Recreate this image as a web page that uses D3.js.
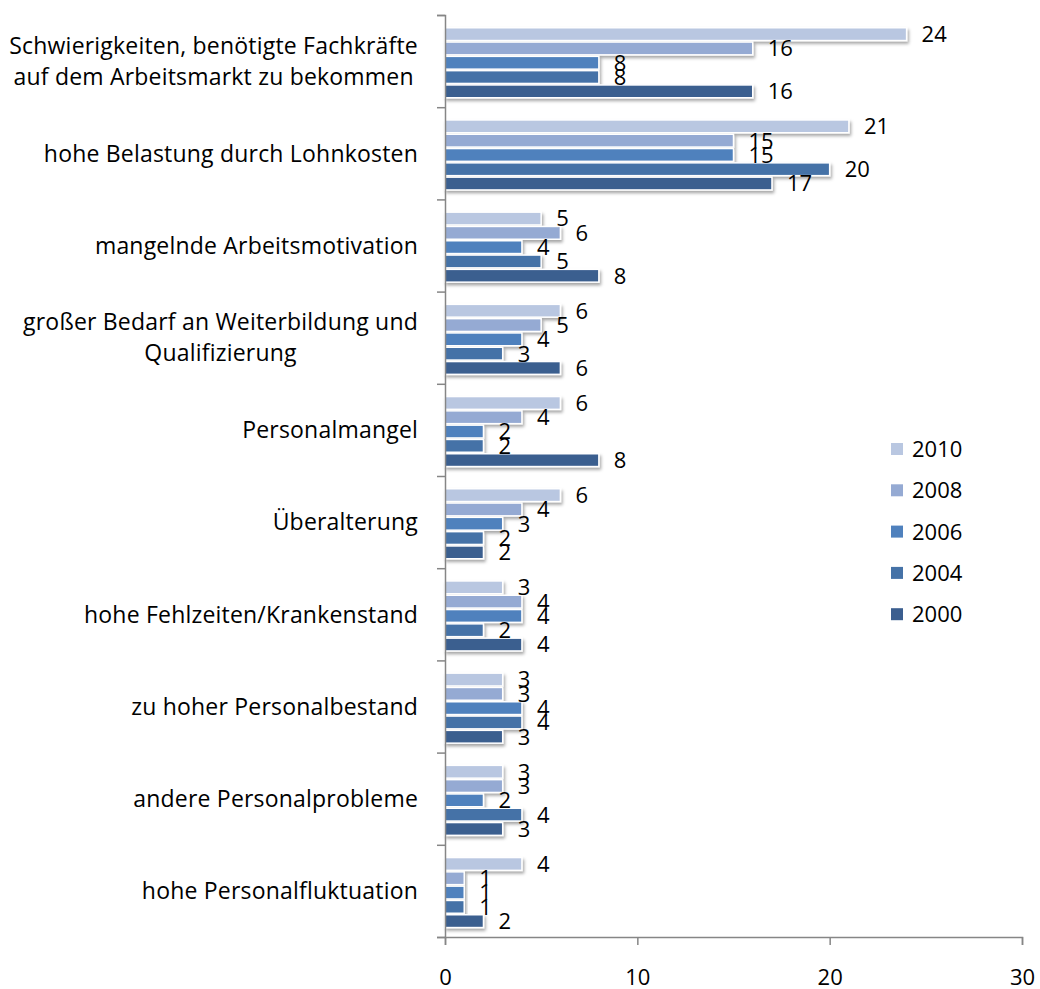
<!DOCTYPE html>
<html lang="de">
<head>
<meta charset="UTF-8">
<title>Personalprobleme</title>
<script src="https://d3js.org/d3.v7.min.js"></script>
<style>
    body { margin: 0; background: #fff; font-family: "Open Sans", Lato, sans-serif; }
    svg { display: block; }
    .axis path, .axis line { stroke: #868686; stroke-width: 1.5; }
    .axis text { font-size: 22px; fill: #000; font-family: "Open Sans", sans-serif; }
    .lbl { font-size: 22px; fill: #000; }
    .cat-lbl { font-size: 23px; letter-spacing: 0.2px; fill: #000; }
</style>
</head>
<body>
<svg id="chart" width="1040" height="989"></svg>
<script>
    const categories = [
        "Schwierigkeiten, benötigte Fachkräfte\nauf dem Arbeitsmarkt zu bekommen",
        "hohe Belastung durch Lohnkosten",
        "mangelnde Arbeitsmotivation",
        "großer Bedarf an Weiterbildung und\nQualifizierung",
        "Personalmangel",
        "Überalterung",
        "hohe Fehlzeiten/Krankenstand",
        "zu hoher Personalbestand",
        "andere Personalprobleme",
        "hohe Personalfluktuation"
    ];
    const years = ["2010", "2008", "2006", "2004", "2000"];
    const v2010 = [24, 21, 5, 6, 6, 6, 3, 3, 3, 4];
    const v2008 = [16, 15, 6, 5, 4, 4, 4, 3, 3, 1];
    const v2006 = [8, 15, 4, 4, 2, 3, 4, 4, 2, 1];
    const v2004 = [8, 20, 5, 3, 2, 2, 2, 4, 4, 1];
    const v2000 = [16, 17, 8, 6, 8, 2, 4, 3, 3, 2];
    const xTicks = [0, 10, 20, 30];

    const seriesValues = { "2010": v2010, "2008": v2008, "2006": v2006, "2004": v2004, "2000": v2000 };
    const colors = { "2010": "#b9c7e1", "2008": "#95aad3", "2006": "#4f81bd", "2004": "#4572a7", "2000": "#3b5e8f" };

    const svg = d3.select("#chart");

    // drop shadow for bars
    const defs = svg.append("defs");
    defs.append("filter")
        .attr("id", "shadow")
        .attr("x", "-5%").attr("y", "-30%")
        .attr("width", "120%").attr("height", "180%")
        .append("feDropShadow")
        .attr("dx", 1.5).attr("dy", 2.5)
        .attr("stdDeviation", 1.6)
        .attr("flood-color", "#000")
        .attr("flood-opacity", 0.35);

    const x = d3.scaleLinear().domain([0, 30]).range([445, 1022]);
    const y0 = d3.scaleBand().domain(categories).range([15, 937]);
    const y1 = d3.scaleBand().domain(years).range([12, 83.5]);
    const yIdx = d3.scaleLinear().domain([0, categories.length]).range([15, 937]);

    // bars
    const groups = svg.selectAll("g.cat")
        .data(categories)
        .enter()
        .append("g")
        .attr("class", "cat")
        .attr("transform", d => `translate(0,${y0(d)})`);

    groups.each(function (cat, i) {
        const g = d3.select(this);
        years.forEach(yr => {
            const val = seriesValues[yr][i];
            g.append("rect")
                .attr("x", x(0))
                .attr("y", y1(yr) + 0.75)
                .attr("width", x(val) - x(0))
                .attr("height", y1.bandwidth() - 1.5)
                .attr("fill", colors[yr])
                .attr("stroke", "#fff")
                .attr("stroke-width", 1.5)
                .attr("filter", "url(#shadow)");
        });
    });

    // value labels on top of all bars
    groups.each(function (cat, i) {
        const g = d3.select(this);
        years.forEach(yr => {
            const val = seriesValues[yr][i];
            g.append("text")
                .attr("class", "lbl")
                .attr("x", x(val) + 15)
                .attr("y", y1(yr) + y1.bandwidth() / 2)
                .attr("dy", "0.36em")
                .text(val);
        });
    });

    // axes
    svg.append("g")
        .attr("class", "axis")
        .attr("transform", `translate(${x(0)},0)`)
        .call(d3.axisLeft(yIdx).ticks(categories.length).tickFormat("").tickSize(8).tickSizeOuter(8));

    svg.append("g")
        .attr("class", "axis")
        .attr("transform", "translate(0,937)")
        .call(d3.axisBottom(x).tickValues(xTicks).tickSize(8).tickSizeOuter(8).tickPadding(24));

    // category labels, lines centred on each other, block right aligned
    const labelRight = 418;
    categories.forEach(cat => {
        const lines = cat.split("\n");
        const cy = y0(cat) + y0.bandwidth() / 2;
        const lh = 31;
        const t = svg.append("text")
            .attr("class", "cat-lbl")
            .attr("text-anchor", "middle");
        const spans = lines.map((ln, k) => t.append("tspan")
            .attr("y", cy + (k - (lines.length - 1) / 2) * lh)
            .attr("dy", "0.36em")
            .text(ln));
        const widest = d3.max(spans, s => s.node().getComputedTextLength());
        spans.forEach(s => s.attr("x", labelRight - widest / 2));
    });

    // legend
    const legend = svg.append("g").attr("transform", "translate(891,449)");
    years.forEach((yr, k) => {
        const row = legend.append("g").attr("transform", `translate(0,${k * 41.3})`);
        row.append("rect")
            .attr("x", 0).attr("y", -6)
            .attr("width", 12).attr("height", 12)
            .attr("fill", colors[yr]);
        row.append("text")
            .attr("class", "lbl")
            .attr("x", 21)
            .attr("dy", "0.36em")
            .text(yr);
    });
</script>
</body>
</html>
